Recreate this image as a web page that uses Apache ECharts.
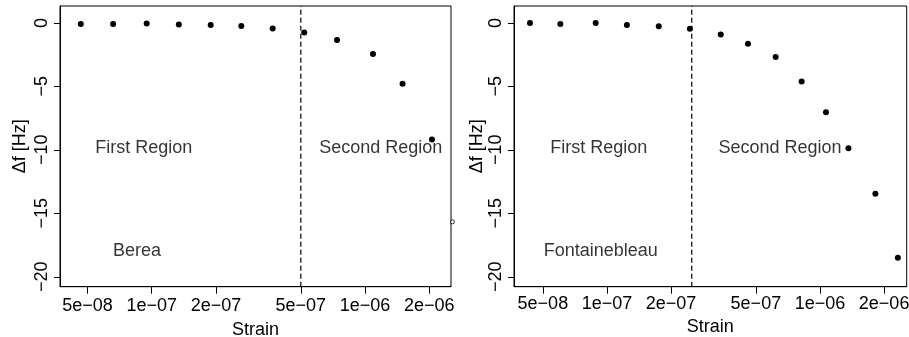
<!DOCTYPE html>
<html><head><meta charset="utf-8">
<script src="https://cdn.jsdelivr.net/npm/echarts@6/dist/echarts.min.js"></script>
<style>html,body{margin:0;padding:0;background:#fff}#c{width:909px;height:337px}</style>
</head><body><div id="c"></div>
<script>
// ---- data ----
const bereaStrain = [4.65e-8, 6.59e-8, 9.47e-8, 1.34e-7, 1.89e-7, 2.63e-7, 3.69e-7, 5.19e-7, 7.39e-7, 1.09e-6, 1.50e-6, 2.06e-6];
const bereaDf     = [-0.08, -0.08, -0.05, -0.13, -0.16, -0.24, -0.44, -0.76, -1.34, -2.46, -4.80, -9.18];
const bereaOutlierStrain = [2.57e-6];
const bereaOutlierDf     = [-15.67];
const fontStrain = [4.35e-8, 6.04e-8, 8.85e-8, 1.24e-7, 1.75e-7, 2.45e-7, 3.42e-7, 4.59e-7, 6.19e-7, 8.2e-7, 1.067e-6, 1.36e-6, 1.82e-6, 2.32e-6];
const fontDf     = [0.0, -0.08, 0.0, -0.16, -0.26, -0.47, -0.92, -1.65, -2.68, -4.62, -7.03, -9.87, -13.46, -18.50];
const xTickValues = [5e-8, 1e-7, 2e-7, 5e-7, 1e-6, 2e-6];
const xTickLabels = ['5e\u221208', '1e\u221207', '2e\u221207', '5e\u221207', '1e\u221206', '2e\u221206'];
const yTickValues = [0, -5, -10, -15, -20];
const yTickLabels = ['0', '\u22125', '\u221210', '\u221215', '\u221220'];
const yRange = [-20.78, 1.33];
const bereaBoundary = 5e-7;
const fontBoundary = 2.5e-7;
const bereaNoteText = ['First Region', 'Second Region', 'Berea'];
const bereaNoteX    = [9.17e-8, 1.186e-6, 8.53e-8];
const bereaNoteY    = [-9.85, -9.85, -17.95];
const fontNoteText  = ['First Region', 'Second Region', 'Fontainebleau'];
const fontNoteX     = [9.14e-8, 6.49e-7, 9.35e-8];
const fontNoteY     = [-9.85, -9.85, -17.95];

// ---- chart ----
const FONT = 'Liberation Sans, Arial, Helvetica, sans-serif';
const zip = (a, b) => a.map((v, i) => [v, b[i]]);
const xFmt = v => {
  let best = 0, bd = Infinity;
  xTickValues.forEach((t, i) => { const d = Math.abs(Math.log10(v) - Math.log10(t)); if (d < bd) { bd = d; best = i; } });
  return xTickLabels[best];
};
const yFmt = v => {
  const i = yTickValues.findIndex(t => Math.abs(t - v) < 1e-6);
  return i >= 0 ? yTickLabels[i] : '';
};

function xAxis(gi, min, max, margin, nameGap) {
  return {
    type: 'log', gridIndex: gi, min, max, logBase: 10,
    name: 'Strain', nameLocation: 'middle', nameGap,
    nameTextStyle: { fontFamily: FONT, fontSize: 18, color: '#000' },
    axisLine: { show: true, onZero: false, lineStyle: { color: '#000', width: 1 } },
    axisTick: { show: true, customValues: xTickValues, length: 7, lineStyle: { color: '#000', width: 1 } },
    axisLabel: { show: true, customValues: xTickValues, formatter: xFmt, margin,
      fontFamily: FONT, fontSize: 18, color: '#000' },
    splitLine: { show: false }, minorTick: { show: false }
  };
}
function yAxis(gi, margin, nameGap) {
  return {
    type: 'value', gridIndex: gi, min: yRange[0], max: yRange[1],
    name: '\u0394f [Hz]', nameLocation: 'middle', nameGap, nameRotate: 90,
    nameTextStyle: { fontFamily: FONT, fontSize: 18, color: '#000' },
    axisLine: { show: true, onZero: false, lineStyle: { color: '#000', width: 1 } },
    axisTick: { show: true, customValues: yTickValues, length: 6, lineStyle: { color: '#000', width: 1 } },
    axisLabel: { show: true, customValues: yTickValues, formatter: yFmt, rotate: 90, margin,
      fontFamily: FONT, fontSize: 18, color: '#000' },
    splitLine: { show: false }
  };
}
function pointSeries(gi, xs, ys) {
  return {
    type: 'scatter', xAxisIndex: gi, yAxisIndex: gi, data: zip(xs, ys),
    symbol: 'circle', symbolSize: 6, itemStyle: { color: '#000', opacity: 1 }, silent: true
  };
}
function boundarySeries(gi, boundary) {
  return {
    type: 'line', xAxisIndex: gi, yAxisIndex: gi, silent: true, symbol: 'none',
    data: [[boundary, yRange[0]], [boundary, yRange[1]]],
    lineStyle: { color: '#000', width: 1.2, type: [5, 3] }
  };
}
function noteSeries(gi, texts, xs, ys) {
  return {
    type: 'scatter', xAxisIndex: gi, yAxisIndex: gi, symbolSize: 0, silent: true,
    data: texts.map((t, i) => ({ name: t, value: [xs[i], ys[i]] })),
    label: { show: true, position: 'inside', formatter: p => p.name,
      fontFamily: FONT, fontSize: 18, color: '#000' }
  };
}

const chart = echarts.init(document.getElementById('c'), null, { renderer: 'canvas' });
chart.setOption({
  animation: false,
  backgroundColor: '#fff',
  grid: [
    { left: 60, top: 6, width: 391, height: 280.7, show: true, borderColor: '#000', borderWidth: 1,
      containLabel: false, outerBoundsMode: 'none' },
    { left: 514, top: 6, width: 392.7, height: 280.7, show: true, borderColor: '#000', borderWidth: 1,
      containLabel: false, outerBoundsMode: 'none' }
  ],
  xAxis: [ xAxis(0, 3.715e-8, 2.530e-6, 10, 34), xAxis(1, 3.66e-8, 2.553e-6, 8, 25) ],
  yAxis: [ yAxis(0, 9, 31), yAxis(1, 9, 28) ],
  series: [
    boundarySeries(0, bereaBoundary),
    pointSeries(0, bereaStrain, bereaDf),
    { type: 'scatter', xAxisIndex: 0, yAxisIndex: 0, clip: false, silent: true,
      data: zip(bereaOutlierStrain, bereaOutlierDf), symbol: 'circle', symbolSize: 4,
      itemStyle: { color: '#fff', borderColor: '#000', borderWidth: 1 } },
    noteSeries(0, bereaNoteText, bereaNoteX, bereaNoteY),
    boundarySeries(1, fontBoundary),
    pointSeries(1, fontStrain, fontDf),
    noteSeries(1, fontNoteText, fontNoteX, fontNoteY)
  ]
});
</script></body></html>
